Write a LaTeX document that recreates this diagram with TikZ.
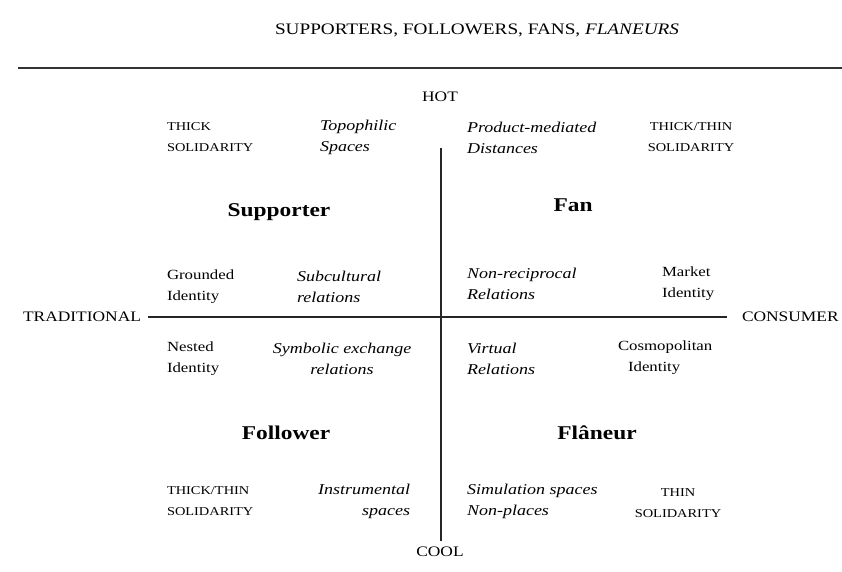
\documentclass[tikz,border=0pt]{standalone}
\usepackage{fontspec}
\setmainfont[FakeStretch=1.2]{Liberation Serif}
\begin{document}
\begin{tikzpicture}[x=1pt,y=-1pt,
  every node/.style={inner sep=0pt, outer sep=0pt},
  caps/.style={font=\fontsize{12}{21}\selectfont, align=left},
  plain/.style={font=\fontsize{14}{21}\selectfont, align=left},
  ital/.style={font=\fontsize{15}{21}\selectfont\itshape, align=left},
  axis/.style={font=\fontsize{14.5}{18}\selectfont},
  role/.style={font=\fontsize{19.5}{22}\selectfont\bfseries},
  axisline/.style={line width=1.1pt, black!85}]
\useasboundingbox (0,0) rectangle (842,571);
% title and rule
\node (title) at (477,30) {\fontsize{16}{18}\selectfont SUPPORTERS, FOLLOWERS, FANS, \textit{FLANEURS}};
\coordinate (r1) at (18,68);
\coordinate (r2) at (842,68);
\draw[line width=1.6pt, black!80] (r1) -- (r2);
% axes
\node[axis] (hot) at (440,97) {HOT};
\node[axis] (cool) at (440,552) {COOL};
\node[axis, anchor=east] (trad) at (141,317) {TRADITIONAL};
\node[axis, anchor=west] (cons) at (742,317) {CONSUMER};
\coordinate (vtop) at (441,148);
\coordinate (vbot) at (441,541);
\coordinate (hl) at (148,317);
\coordinate (hr) at (727,317);
\draw[axisline] (vtop) -- (vbot);
\draw[axisline] (hl) -- (hr);
% top row
\node[caps, anchor=west] (ts1) at (167,137.5) {THICK\\SOLIDARITY};
\node[ital, anchor=west] (topo) at (320,137.5) {Topophilic\\Spaces};
\node[ital, anchor=west] (prod) at (467,137.5) {Product-mediated\\Distances};
\node[caps, align=center] (tt1) at (691,137.5) {THICK/THIN\\SOLIDARITY};
% roles
\node[role] (supporter) at (279,212) {Supporter};
\node[role] (fan) at (573,205) {Fan};
\node[role] (follower) at (286,433) {Follower};
\node[role] (flaneur) at (597,433) {Flâneur};
% middle upper
\node[plain, anchor=west] (grounded) at (167,287) {Grounded\\Identity};
\node[ital, anchor=west] (subcult) at (297,287) {Subcultural\\relations};
\node[ital, anchor=west] (nonrec) at (467,283.5) {Non-reciprocal\\Relations};
\node[plain, anchor=west] (market) at (662,283.5) {Market\\Identity};
% middle lower
\node[plain, anchor=west] (nested) at (167,358.5) {Nested\\Identity};
\node[ital, align=center] (symb) at (342,359) {Symbolic exchange\\relations};
\node[ital, anchor=west] (virtual) at (467,359) {Virtual\\Relations};
\node[plain, anchor=west] (cosmo) at (618,358) {Cosmopolitan\\\hspace*{10pt}Identity};
% bottom row
\node[caps, anchor=west] (tt2) at (167,501) {THICK/THIN\\SOLIDARITY};
\node[ital, anchor=east, align=right] (instr) at (410,501) {Instrumental\\spaces};
\node[ital, anchor=west] (sim) at (467,501) {Simulation spaces\\Non-places};
\node[caps, align=center] (thin) at (678,503) {THIN\\SOLIDARITY};
\end{tikzpicture}
\end{document}
